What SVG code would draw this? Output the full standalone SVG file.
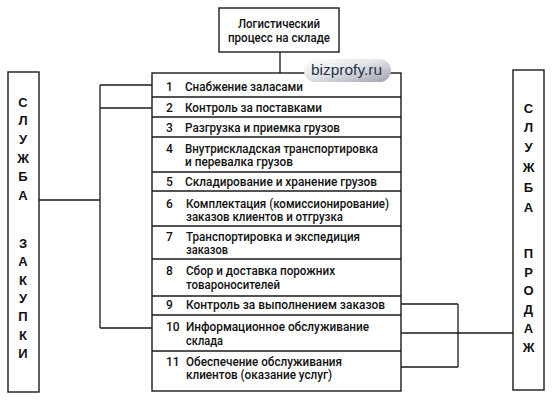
<svg xmlns="http://www.w3.org/2000/svg" width="552" height="400" viewBox="0 0 552 400">
<defs>
<style>
.box{fill:#ffffff;stroke:#1a1a1a;stroke-width:1.4}
.ln{fill:none;stroke:#1a1a1a;stroke-width:1.3}
.t{font-family:Roboto,"Liberation Sans",Arial,sans-serif;font-size:12px;font-weight:500;fill:#111111}
.v{font-family:"Liberation Sans",Arial,sans-serif;font-size:13px;font-weight:bold;fill:#111111;text-anchor:middle}
.wm{font-family:"Liberation Sans",Arial,sans-serif;font-size:15px;fill:#27324a}
</style>
<linearGradient id="pill" x1="0" y1="0" x2="1" y2="1">
<stop offset="0" stop-color="#ffffff"/>
<stop offset="0.45" stop-color="#e2e4e8"/>
<stop offset="1" stop-color="#9ea3ab"/>
</linearGradient>
</defs>
<rect width="552" height="400" fill="#ffffff"/>

<g id="connectors">
<line class="ln" x1="280" y1="52" x2="280" y2="73"/>
<polyline class="ln" points="39,200 100,200"/>
<line class="ln" x1="100" y1="85" x2="100" y2="328"/>
<line class="ln" x1="100" y1="85" x2="152" y2="85"/>
<line class="ln" x1="100" y1="108" x2="152" y2="108"/>
<line class="ln" x1="100" y1="328" x2="152" y2="328"/>
<line class="ln" x1="458" y1="304" x2="458" y2="367"/>
<line class="ln" x1="401" y1="304" x2="458" y2="304"/>
<line class="ln" x1="401" y1="367" x2="458" y2="367"/>
<line class="ln" x1="401" y1="333" x2="513" y2="333"/>
</g>

<g id="top">
<rect class="box" x="219" y="8" width="120" height="44"/>
<text class="t" x="279" y="28" text-anchor="middle" textLength="82" lengthAdjust="spacingAndGlyphs">Логистический</text>
<text class="t" x="279" y="42" text-anchor="middle" textLength="102" lengthAdjust="spacingAndGlyphs">процесс на складе</text>
</g>

<g id="purchasing">
<rect class="box" x="8" y="72" width="31" height="320"/>
<text class="v" x="23" y="107">С</text>
<text class="v" x="23" y="125">Л</text>
<text class="v" x="23" y="144">У</text>
<text class="v" x="23" y="163">Ж</text>
<text class="v" x="23" y="181">Б</text>
<text class="v" x="23" y="200">А</text>
<text class="v" x="23" y="248">З</text>
<text class="v" x="23" y="266">А</text>
<text class="v" x="23" y="285">К</text>
<text class="v" x="23" y="303">У</text>
<text class="v" x="23" y="321">П</text>
<text class="v" x="23" y="340">К</text>
<text class="v" x="23" y="358">И</text>
</g>

<g id="sales">
<rect class="box" x="513" y="70" width="31" height="320"/>
<text class="v" x="528.5" y="113">С</text>
<text class="v" x="528.5" y="132">Л</text>
<text class="v" x="528.5" y="152">У</text>
<text class="v" x="528.5" y="171.5">Ж</text>
<text class="v" x="528.5" y="191.5">Б</text>
<text class="v" x="528.5" y="211.5">А</text>
<text class="v" x="528.5" y="257.5">П</text>
<text class="v" x="528.5" y="276.5">Р</text>
<text class="v" x="528.5" y="295">О</text>
<text class="v" x="528.5" y="314">Д</text>
<text class="v" x="528.5" y="333">А</text>
<text class="v" x="528.5" y="352">Ж</text>
</g>

<g id="table">
<rect class="box" x="152" y="73" width="249" height="318"/>
<line class="ln" x1="152" y1="97" x2="401" y2="97"/>
<line class="ln" x1="152" y1="117" x2="401" y2="117"/>
<line class="ln" x1="152" y1="137" x2="401" y2="137"/>
<line class="ln" x1="152" y1="172" x2="401" y2="172"/>
<line class="ln" x1="152" y1="191" x2="401" y2="191"/>
<line class="ln" x1="152" y1="226" x2="401" y2="226"/>
<line class="ln" x1="152" y1="259" x2="401" y2="259"/>
<line class="ln" x1="152" y1="296" x2="401" y2="296"/>
<line class="ln" x1="152" y1="315" x2="401" y2="315"/>
<line class="ln" x1="152" y1="351" x2="401" y2="351"/>
</g>

<g id="row1"><text class="t" x="166" y="91">1</text><text class="t" x="185" y="91" textLength="118" lengthAdjust="spacingAndGlyphs">Снабжение заласами</text></g>
<g id="row2"><text class="t" x="166" y="112">2</text><text class="t" x="185" y="112" textLength="137" lengthAdjust="spacingAndGlyphs">Контроль за поставками</text></g>
<g id="row3"><text class="t" x="166" y="131.5">3</text><text class="t" x="185" y="131.5" textLength="155" lengthAdjust="spacingAndGlyphs">Разгрузка и приемка грузов</text></g>
<g id="row4"><text class="t" x="166" y="153">4</text><text class="t" x="185" y="153" textLength="193" lengthAdjust="spacingAndGlyphs">Внутрискладская транспортировка</text><text class="t" x="185" y="166" textLength="108" lengthAdjust="spacingAndGlyphs">и перевалка грузов</text></g>
<g id="row5"><text class="t" x="166" y="186">5</text><text class="t" x="185" y="186" textLength="192" lengthAdjust="spacingAndGlyphs">Складирование и хранение грузов</text></g>
<g id="row6"><text class="t" x="166" y="207.5">6</text><text class="t" x="186" y="207.5" textLength="203" lengthAdjust="spacingAndGlyphs">Комплектация (комиссионирование)</text><text class="t" x="186" y="221" textLength="157" lengthAdjust="spacingAndGlyphs">заказов клиентов и отгрузка</text></g>
<g id="row7"><text class="t" x="166" y="240.5">7</text><text class="t" x="186" y="240.5" textLength="174" lengthAdjust="spacingAndGlyphs">Транспортировка и экспедиция</text><text class="t" x="186" y="254" textLength="42" lengthAdjust="spacingAndGlyphs">заказов</text></g>
<g id="row8"><text class="t" x="166" y="275">8</text><text class="t" x="186" y="275" textLength="149" lengthAdjust="spacingAndGlyphs">Сбор и доставка порожних</text><text class="t" x="186" y="288.5" textLength="94" lengthAdjust="spacingAndGlyphs">товароносителей</text></g>
<g id="row9"><text class="t" x="166" y="309">9</text><text class="t" x="186" y="309" textLength="199" lengthAdjust="spacingAndGlyphs">Контроль за выполнением заказов</text></g>
<g id="row10"><text class="t" x="166" y="330.5">10</text><text class="t" x="186" y="330.5" textLength="183" lengthAdjust="spacingAndGlyphs">Информационное обслуживание</text><text class="t" x="186" y="344.5" textLength="37" lengthAdjust="spacingAndGlyphs">склада</text></g>
<g id="row11"><text class="t" x="166" y="365.5">11</text><text class="t" x="186" y="365.5" textLength="156" lengthAdjust="spacingAndGlyphs">Обеспечение обслуживания</text><text class="t" x="186" y="379" textLength="146" lengthAdjust="spacingAndGlyphs">клиентов (оказание услуг)</text></g>

<g id="watermark">
<rect x="304" y="59" width="87" height="23" rx="11.5" fill="url(#pill)"/>
<text class="wm" x="346.5" y="75" text-anchor="middle" textLength="71" lengthAdjust="spacingAndGlyphs">bizprofy.ru</text>
</g>
</svg>
